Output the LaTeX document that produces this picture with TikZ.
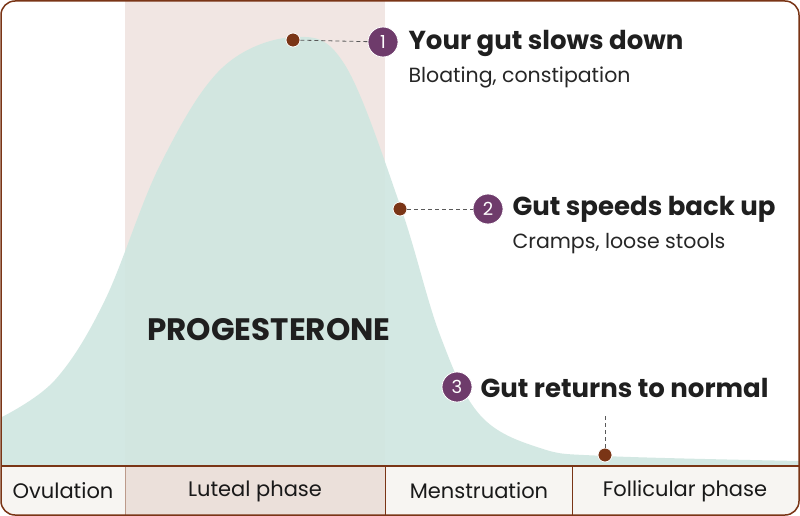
\documentclass[tikz,border=0pt]{standalone}
\usepackage{fontspec}
\setmainfont{Poppins}
\begin{document}
\definecolor{brn}{HTML}{7A3516}
\definecolor{pur}{HTML}{6E3B6B}
\definecolor{teal}{HTML}{CFE6E0}
\definecolor{lut}{HTML}{F1E6E3}
\definecolor{lutbar}{HTML}{EBE0DA}
\definecolor{cell}{HTML}{F7F5F2}
\begin{tikzpicture}[x=1pt,y=-1pt,
  dot/.style={circle,fill=brn,draw=white,line width=0.8pt,inner sep=0,minimum size=14pt},
  num/.style={circle,fill=pur,draw=white,line width=0.8pt,inner sep=0,minimum size=30pt,text=white,font=\fontsize{18}{18}\rmfamily},
  head/.style={anchor=west,font=\fontsize{26}{27}\bfseries,text=black!88},
  sub/.style={anchor=west,font=\fontsize{20.5}{22}\selectfont,text=black!85},
  lead/.style={dashed,gray!70!black,line width=0.8pt,dash pattern=on 4pt off 3pt},
  phase/.style={font=\fontsize{21}{22}\selectfont,text=black!90}]
\useasboundingbox (0,0) rectangle (800,516);
\begin{scope}
\clip[rounded corners=14pt] (1,1) rectangle (799,515);
\fill[white] (0,0) rectangle (800,466);
\fill[lut] (125,0) rectangle (385,466);
\fill[teal,opacity=0.9] (0,466) -- plot[smooth,tension=0.6] coordinates {(0,418) (55,380) (105,300) (160,165) (222,68) (295,37) (345,65) (400,205) (440,335) (480,415) (540,448) (605,456) (800,461)} -- (800,466) -- cycle;
\fill[cell] (0,466) rectangle (800,516);
\fill[lutbar] (125,466) rectangle (385,516);
\end{scope}
\draw[brn,line width=1pt] (385,466) -- (385,515) (572,466) -- (572,515);
\draw[brn!50,line width=0.6pt] (125,466) -- (125,515);
\draw[brn,line width=1.5pt] (1,466) -- (799,466);
\draw[brn,line width=1.5pt,rounded corners=14pt] (1,1) rectangle (799,515);
\node[phase] (c1) at (63,491) {Ovulation};
\node[phase] (c2) at (255,491) {Luteal phase};
\node[phase] (c3) at (479,491) {Menstruation};
\node[phase] (c4) at (685,491) {Follicular phase};
\node[font=\fontsize{31}{33}\bfseries,text=black!88] (pg) at (269,330) {PROGESTERONE};
\node[dot] (d1) at (293,40) {};
\node[num] (n1) at (383,42) {1};
\draw[lead] (d1) -- (n1);
\node[head] (h1) at (405,43) {Your gut slows down};
\node[sub] (s1) at (405,77) {Bloating, constipation};
\node[dot] (d2) at (400,209) {};
\node[num] (n2) at (488,209) {2};
\draw[lead] (d2) -- (n2);
\node[head] (h2) at (509,209) {Gut speeds back up};
\node[sub] (s2) at (509,244) {Cramps, loose stools};
\node[num] (n3) at (457,387) {3};
\node[head] (h3) at (477,388) {Gut returns to normal};
\node[dot] (d3) at (605,455) {};
\coordinate (t3) at (605,415);
\draw[lead] (d3) -- (t3);
\end{tikzpicture}
\end{document}
